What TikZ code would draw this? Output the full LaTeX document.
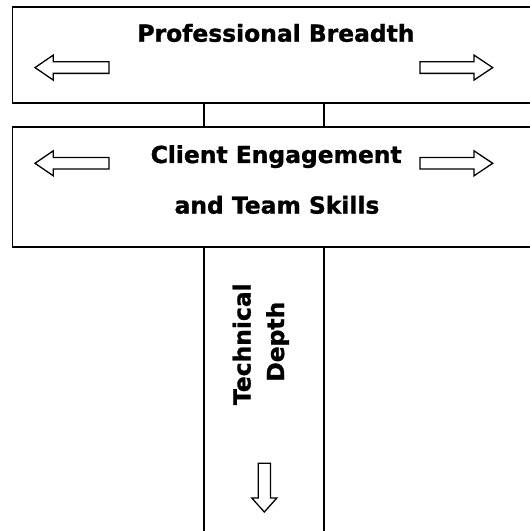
\documentclass[tikz,border=0pt]{standalone}
\usepackage{fontspec}
\setmainfont{DejaVu Sans}[BoldFeatures={FakeBold=1.2}]
\begin{document}
\begin{tikzpicture}[x=1bp,y=-1bp,
  box/.style={draw=black, line width=1.9bp, fill=none, inner sep=0, outer sep=0, anchor=north west},
  edge/.style={draw=black, line width=1.9bp},
  lbl/.style={font=\fontsize{23.4bp}{28bp}\selectfont\bfseries, inner sep=0, anchor=base},
  hollowarrow/.style={draw=black, line width=1.3bp, fill=white, line join=miter}]
\useasboundingbox (0,0) rectangle (530,531);
\clip (0,0) rectangle (530,531);
\fill[white] (0,0) rectangle (530,531);
% boxes
\node[box, minimum width=530bp, minimum height=95.4bp] (breadth) at (12.5,7.3) {};
\node[box, minimum width=530bp, minimum height=120bp] (skills) at (12.5,127.3) {};
\coordinate (bl) at (204.3,540);
\coordinate (br) at (324,540);
% connectors between boxes and stem
\draw[edge] (breadth.south -| bl) -- (skills.north -| bl);
\draw[edge] (breadth.south -| br) -- (skills.north -| br);
\draw[edge] (skills.south -| bl) -- (bl);
\draw[edge] (skills.south -| br) -- (br);
% labels
\node[lbl] (tb) at (276,41.7) {Professional Breadth};
\node[lbl] (tc1) at (276.2,163) {Client Engagement};
\node[lbl] (tc2) at (277,213.6) {and Team Skills};
\node[lbl, rotate=90] (td1) at (250.5,344.2) {Technical};
\node[lbl, rotate=90] (td2) at (284,341.7) {Depth};
% hollow arrows, top box
\draw[hollowarrow] (35,67.6) -- (53.3,55.1) -- (53.3,61.8) -- (109,61.8) -- (109,73.4) -- (53.3,73.4) -- (53.3,80.1) -- cycle;
\draw[hollowarrow] (492.7,67.6) -- (474,55.1) -- (474,61.8) -- (420,61.8) -- (420,73.4) -- (474,73.4) -- (474,80.1) -- cycle;
% hollow arrows, second box
\draw[hollowarrow] (35,163.3) -- (53.3,150.8) -- (53.3,157.5) -- (109,157.5) -- (109,169.1) -- (53.3,169.1) -- (53.3,175.8) -- cycle;
\draw[hollowarrow] (492.7,163.3) -- (474,150.8) -- (474,157.5) -- (420,157.5) -- (420,169.1) -- (474,169.1) -- (474,175.8) -- cycle;
% hollow arrow, stem
\draw[hollowarrow] (264.3,512) -- (251.8,498) -- (258.3,498) -- (258.3,463.3) -- (270.5,463.3) -- (270.5,498) -- (276.8,498) -- cycle;
\end{tikzpicture}
\end{document}
